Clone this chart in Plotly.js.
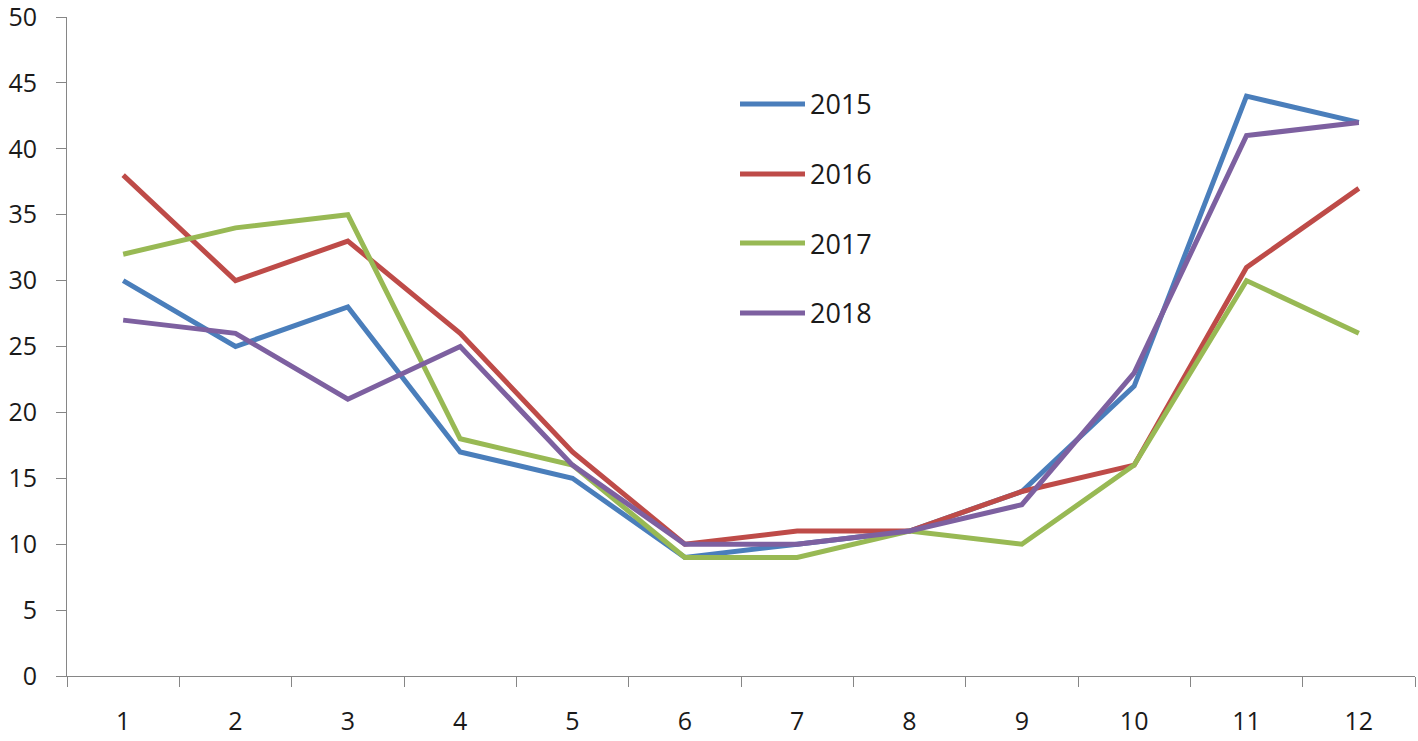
<!DOCTYPE html>
<html>
<head>
<meta charset="utf-8">
<script src="https://cdn.plot.ly/plotly-3.0.1.min.js"></script>
<style>html,body{margin:0;padding:0;background:#fff;}#chart{width:1418px;height:741px;}</style>
</head>
<body>
<div id="chart"></div>
<script>
var months = ["1","2","3","4","5","6","7","8","9","10","11","12"];
var seriesNames = ["2015","2016","2017","2018"];
var v2015 = [30, 25, 28, 17, 15, 9, 10, 11, 14, 22, 44, 42];
var v2016 = [38, 30, 33, 26, 17, 10, 11, 11, 14, 16, 31, 37];
var v2017 = [32, 34, 35, 18, 16, 9, 9, 11, 10, 16, 30, 26];
var v2018 = [27, 26, 21, 25, 16, 10, 10, 11, 13, 23, 41, 42];
var colors = ["#4A7EBB", "#BE4B48", "#98B954", "#7D60A0"];
var allValues = [v2015, v2016, v2017, v2018];

var traces = allValues.map(function(vals, i){
  return {x: months, y: vals, type: "scatter", mode: "lines", name: seriesNames[i],
    line: {color: colors[i], width: 5}, showlegend: false};
});

var FONT = "Open Sans, sans-serif";
var FS = 25;
var TOP = 17, BOT = 65;
var shapes = [], annotations = [];
var W = 1418 - 67 - 3, H = 741 - TOP - BOT;
var legY = [104, 174, 243, 313];
seriesNames.forEach(function(n, i){
  var yp = 1 - (legY[i] - TOP) / H;
  shapes.push({type: "line", xref: "paper", yref: "paper",
    x0: (740 - 67) / W, x1: (805 - 67) / W, y0: yp, y1: yp,
    line: {color: colors[i], width: 5}});
  annotations.push({xref: "paper", yref: "paper", x: (808 - 67) / W, y: yp,
    xanchor: "left", yanchor: "middle", text: n, showarrow: false,
    font: {family: FONT, size: 27, color: "#1a1a1a"}});
});

var layout = {
  width: 1418, height: 741,
  margin: {l: 67, r: 3, t: TOP, b: BOT},
  paper_bgcolor: "#fff", plot_bgcolor: "#fff",
  font: {family: FONT, size: FS, color: "#1a1a1a"},
  xaxis: {type: "category", range: [-0.5, 11.5], tickson: "boundaries",
    ticks: "outside", ticklen: 10, tickcolor: "#868686", tickwidth: 1,
    showline: true, linecolor: "#868686", linewidth: 1, showgrid: false, zeroline: false,
    ticklabelstandoff: 23, ticklabeloverflow: "allow", fixedrange: true},
  yaxis: {range: [0, 50], tickvals: [0,5,10,15,20,25,30,35,40,45,50],
    ticks: "outside", ticklen: 10, tickcolor: "#868686", tickwidth: 1,
    showline: true, linecolor: "#868686", linewidth: 1, showgrid: false, zeroline: false,
    ticklabelstandoff: 14, ticklabeloverflow: "allow", fixedrange: true},
  shapes: shapes, annotations: annotations
};
Plotly.newPlot("chart", traces, layout, {displayModeBar: false, staticPlot: true});
</script>
</body>
</html>
